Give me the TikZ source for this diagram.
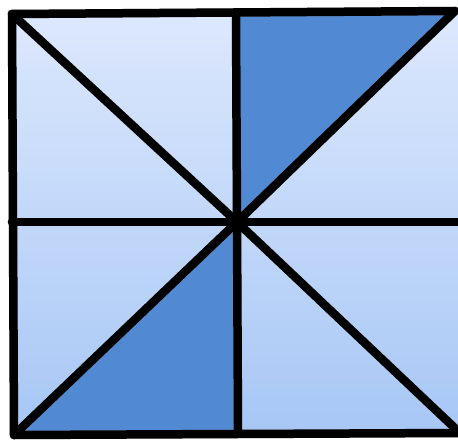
\documentclass[tikz,border=0pt]{standalone}
\usetikzlibrary{calc}
\definecolor{lighttop}{HTML}{DCE8FD}
\definecolor{lightbot}{HTML}{A6C6F5}
\definecolor{darkblue}{HTML}{5189D3}
\begin{document}
\begin{tikzpicture}[x=1pt,y=-1pt,
  edge/.style={line width=8.5pt,black,line cap=round,line join=round},
  shade/.style={line width=8.5pt,black!35,opacity=0.5,line cap=round}]
\useasboundingbox (0,0) rectangle (458,444);
\coordinate (TL) at (12,14);
\coordinate (TM) at (236,15);
\coordinate (TR) at (455,11);
\coordinate (ML) at (12,222);
\coordinate (C) at (237,222);
\coordinate (MR) at (460,222);
\coordinate (BL) at (14,435);
\coordinate (BM) at (238,432);
\coordinate (BR) at (460,433);
% background gradient built from strips
\begin{scope}
\clip (TL) -- (TR) -- (462,11) -- (462,434) -- (BR) -- (BL) -- cycle;
\foreach \i in {0,...,49}{
  \pgfmathsetmacro{\p}{\i*2}
  \pgfmathsetmacro{\ya}{10+\i*8.6}
  \fill[lightbot!\p!lighttop] (0,\ya) rectangle (462,\ya+9.2);
}
\end{scope}
% dark triangles
\fill[darkblue] (TM) -- (TR) -- (C) -- cycle;
\fill[darkblue] (BL) -- (C) -- (BM) -- cycle;
% soft shadows
\begin{scope}[shift={(2,2.5)}]
\draw[shade] (TL) -- (C) -- (BR);
\draw[shade] (TR) -- (C) -- (BL);
\draw[shade] (ML) -- (MR);
\draw[shade] (TM) -- (C) -- (BM);
\draw[shade] (BL) -- (TL) -- (TR);
\draw[shade] (BL) -- (BR);
\end{scope}
% lines
\draw[edge] (TL) -- (C) -- (BR);
\draw[edge] (TR) -- (C) -- (BL);
\draw[edge] (ML) -- (MR);
\draw[edge] (TM) -- (C) -- (BM);
\draw[edge] (BR) -- (BL) -- (TL) -- (TR);
\end{tikzpicture}
\end{document}
